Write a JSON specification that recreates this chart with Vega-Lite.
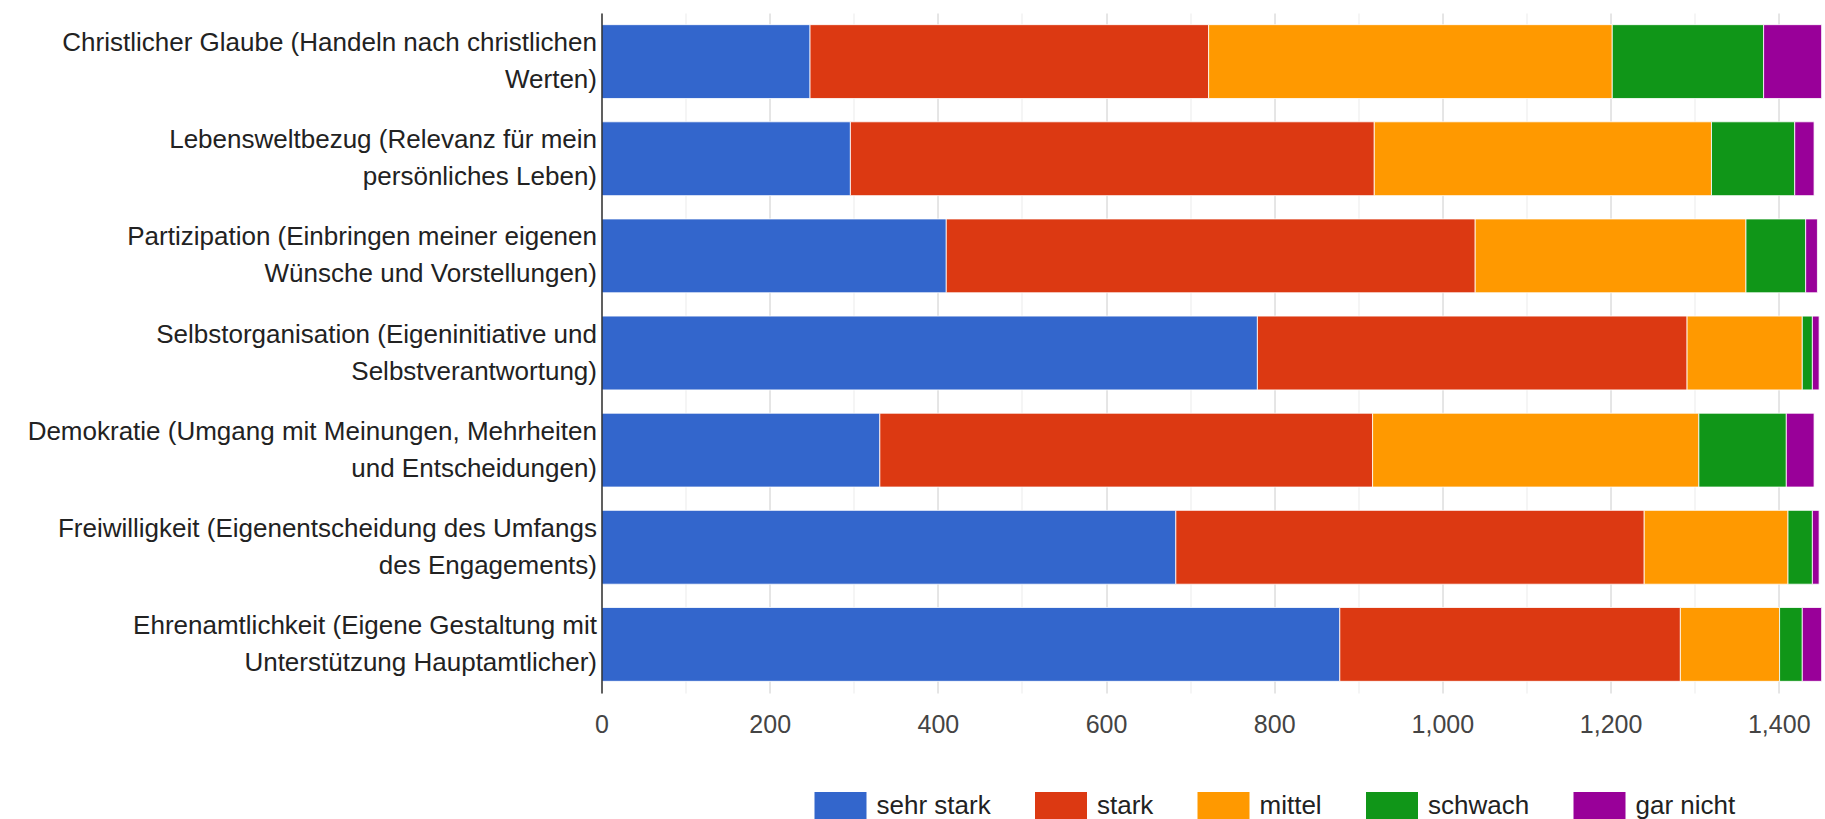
{
  "$schema": "https://vega.github.io/schema/vega-lite/v6.json",
  "width": 1223.5,
  "height": 680,
  "autosize": {"type": "none"},
  "padding": {"left": 601.5, "top": 13, "right": 0, "bottom": 126},
  "background": "#ffffff",
  "config": {"view": {"stroke": null}, "font": "Liberation Sans"},
  "data": {
    "values": [
      {"item": "Christlicher Glaube (Handeln nach christlichen\nWerten)", "level": "sehr stark", "count": 248},
      {"item": "Christlicher Glaube (Handeln nach christlichen\nWerten)", "level": "stark", "count": 474},
      {"item": "Christlicher Glaube (Handeln nach christlichen\nWerten)", "level": "mittel", "count": 480},
      {"item": "Christlicher Glaube (Handeln nach christlichen\nWerten)", "level": "schwach", "count": 180},
      {"item": "Christlicher Glaube (Handeln nach christlichen\nWerten)", "level": "gar nicht", "count": 69},
      {"item": "Lebensweltbezug (Relevanz für mein\npersönliches Leben)", "level": "sehr stark", "count": 296},
      {"item": "Lebensweltbezug (Relevanz für mein\npersönliches Leben)", "level": "stark", "count": 623},
      {"item": "Lebensweltbezug (Relevanz für mein\npersönliches Leben)", "level": "mittel", "count": 401},
      {"item": "Lebensweltbezug (Relevanz für mein\npersönliches Leben)", "level": "schwach", "count": 99},
      {"item": "Lebensweltbezug (Relevanz für mein\npersönliches Leben)", "level": "gar nicht", "count": 23},
      {"item": "Partizipation (Einbringen meiner eigenen\nWünsche und Vorstellungen)", "level": "sehr stark", "count": 410},
      {"item": "Partizipation (Einbringen meiner eigenen\nWünsche und Vorstellungen)", "level": "stark", "count": 629},
      {"item": "Partizipation (Einbringen meiner eigenen\nWünsche und Vorstellungen)", "level": "mittel", "count": 322},
      {"item": "Partizipation (Einbringen meiner eigenen\nWünsche und Vorstellungen)", "level": "schwach", "count": 71},
      {"item": "Partizipation (Einbringen meiner eigenen\nWünsche und Vorstellungen)", "level": "gar nicht", "count": 14},
      {"item": "Selbstorganisation (Eigeninitiative und\nSelbstverantwortung)", "level": "sehr stark", "count": 780},
      {"item": "Selbstorganisation (Eigeninitiative und\nSelbstverantwortung)", "level": "stark", "count": 511},
      {"item": "Selbstorganisation (Eigeninitiative und\nSelbstverantwortung)", "level": "mittel", "count": 137},
      {"item": "Selbstorganisation (Eigeninitiative und\nSelbstverantwortung)", "level": "schwach", "count": 12},
      {"item": "Selbstorganisation (Eigeninitiative und\nSelbstverantwortung)", "level": "gar nicht", "count": 8},
      {"item": "Demokratie (Umgang mit Meinungen, Mehrheiten\nund Entscheidungen)", "level": "sehr stark", "count": 331},
      {"item": "Demokratie (Umgang mit Meinungen, Mehrheiten\nund Entscheidungen)", "level": "stark", "count": 586},
      {"item": "Demokratie (Umgang mit Meinungen, Mehrheiten\nund Entscheidungen)", "level": "mittel", "count": 388},
      {"item": "Demokratie (Umgang mit Meinungen, Mehrheiten\nund Entscheidungen)", "level": "schwach", "count": 104},
      {"item": "Demokratie (Umgang mit Meinungen, Mehrheiten\nund Entscheidungen)", "level": "gar nicht", "count": 33},
      {"item": "Freiwilligkeit (Eigenentscheidung des Umfangs\ndes Engagements)", "level": "sehr stark", "count": 683},
      {"item": "Freiwilligkeit (Eigenentscheidung des Umfangs\ndes Engagements)", "level": "stark", "count": 557},
      {"item": "Freiwilligkeit (Eigenentscheidung des Umfangs\ndes Engagements)", "level": "mittel", "count": 171},
      {"item": "Freiwilligkeit (Eigenentscheidung des Umfangs\ndes Engagements)", "level": "schwach", "count": 29},
      {"item": "Freiwilligkeit (Eigenentscheidung des Umfangs\ndes Engagements)", "level": "gar nicht", "count": 8},
      {"item": "Ehrenamtlichkeit (Eigene Gestaltung mit\nUnterstützung Hauptamtlicher)", "level": "sehr stark", "count": 878},
      {"item": "Ehrenamtlichkeit (Eigene Gestaltung mit\nUnterstützung Hauptamtlicher)", "level": "stark", "count": 405},
      {"item": "Ehrenamtlichkeit (Eigene Gestaltung mit\nUnterstützung Hauptamtlicher)", "level": "mittel", "count": 118},
      {"item": "Ehrenamtlichkeit (Eigene Gestaltung mit\nUnterstützung Hauptamtlicher)", "level": "schwach", "count": 27},
      {"item": "Ehrenamtlichkeit (Eigene Gestaltung mit\nUnterstützung Hauptamtlicher)", "level": "gar nicht", "count": 23}
    ]
  },
  "transform": [
    {"calculate": "indexof(['sehr stark', 'stark', 'mittel', 'schwach', 'gar nicht'], datum.level)", "as": "stackIndex"}
  ],
  "mark": {"type": "bar", "stroke": "#ffffff", "strokeWidth": 1, "strokeOpacity": 0.8},
  "encoding": {
    "y": {
      "field": "item",
      "type": "nominal",
      "sort": null,
      "scale": {"paddingInner": 0.24, "paddingOuter": 0.12},
      "axis": {
        "title": null,
        "domain": true,
        "domainColor": "#333333",
        "domainWidth": 1.5,
        "ticks": false,
        "grid": false,
        "labelFontSize": 26,
        "labelColor": "#222222",
        "labelLimit": 800,
        "labelPadding": 5,
        "labelLineHeight": 37,
        "labelOffset": -18.5,
        "labelExpr": "split(datum.label, '\\n')",
        "zindex": 1
      }
    },
    "x": {
      "field": "count",
      "type": "quantitative",
      "stack": "zero",
      "scale": {"domain": [0, 1455], "nice": false},
      "axis": {
        "title": null,
        "values": [0, 100, 200, 300, 400, 500, 600, 700, 800, 900, 1000, 1100, 1200, 1300, 1400],
        "format": ",d",
        "labelExpr": "datum.value % 200 === 0 ? datum.label : ''",
        "domain": false,
        "ticks": false,
        "grid": true,
        "gridColor": {"condition": {"test": "datum.value % 200 === 0", "value": "#cccccc"}, "value": "#ebebeb"},
        "labelFontSize": 25,
        "labelColor": "#444444",
        "labelPadding": 19,
        "labelOverlap": false,
        "labelFlush": false
      }
    },
    "order": {"field": "stackIndex", "type": "quantitative", "sort": "ascending"},
    "color": {
      "field": "level",
      "type": "nominal",
      "sort": ["sehr stark", "stark", "mittel", "schwach", "gar nicht"],
      "scale": {
        "domain": ["sehr stark", "stark", "mittel", "schwach", "gar nicht"],
        "range": ["#3366cc", "#dc3912", "#ff9900", "#109618", "#990099"]
      },
      "legend": {
        "title": null,
        "orient": "none",
        "direction": "horizontal",
        "legendX": 213,
        "legendY": 767,
        "symbolType": "M-1,-0.55L1,-0.55L1,0.55L-1,0.55Z",
        "symbolSize": 2704,
        "symbolStrokeWidth": 0,
        "symbolOpacity": 1,
        "labelFontSize": 26,
        "labelColor": "#222222",
        "labelOffset": 10,
        "columnPadding": 43.5,
        "labelLimit": 300
      }
    }
  }
}
